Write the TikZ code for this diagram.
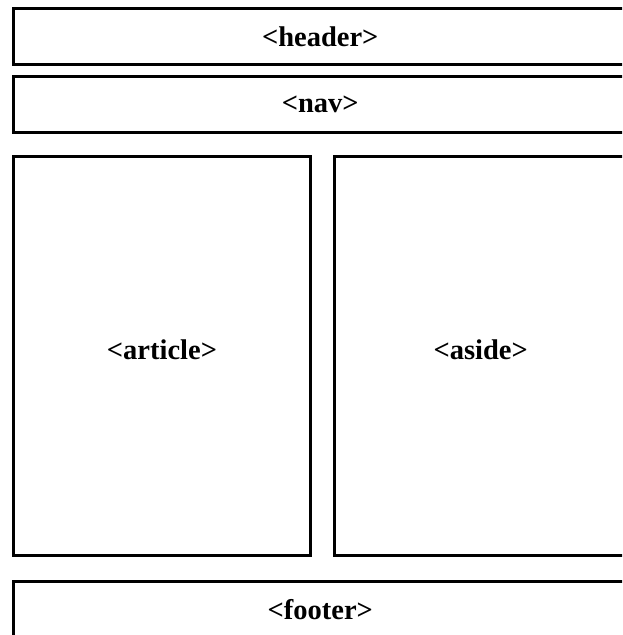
\documentclass[tikz,border=0pt]{standalone}
\usepackage{fontspec}
\setmainfont{Liberation Serif}
\begin{document}
\begin{tikzpicture}[x=1pt,y=-1pt,
  region/.style={draw=black, line width=3pt, rectangle, inner sep=0pt,
    font=\fontsize{28.5}{34}\selectfont\bfseries},
  column/.style={region, minimum height=399pt, text depth=12pt}]
\useasboundingbox (0,0) rectangle (622,635);
\clip (0,0) rectangle (622,635);
% page layout blocks
\node[region, minimum width=613.5pt, minimum height=56.5pt] (header) at (320.25,36.25) {<header>};
\node[region, minimum width=613.5pt, minimum height=56.5pt] (nav) at (320.25,104.25) {<nav>};
\node[column, minimum width=297pt] (article) at (162,356) {<article>};
\node[column, minimum width=292.5pt] (aside) at (480.75,356) {<aside>};
\node[region, minimum width=613.5pt, minimum height=56.5pt] (footer) at (320.25,609.75) {<footer>};
\end{tikzpicture}
\end{document}
